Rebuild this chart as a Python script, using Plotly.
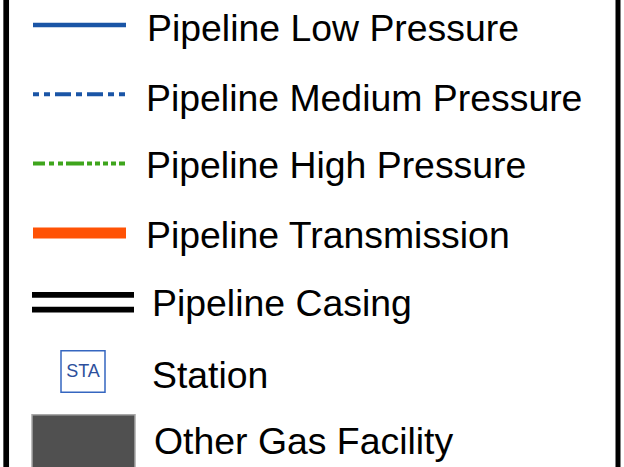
import plotly.graph_objects as go

# Legend content
labels = ["Pipeline Low Pressure", "Pipeline Medium Pressure", "Pipeline High Pressure",
          "Pipeline Transmission", "Pipeline Casing", "Station", "Other Gas Facility"]
kinds = ["line", "line", "line", "line", "casing", "station", "facility"]
colors = ["#1a55a6", "#1a55a6", "#3ea51c", "#ff5205", "#000000", "#3566c0", "#505050"]
dashes = ["solid",
          "6px,5px,6px,5px,16px,5px,6px,5px,16px,5px,6px,5px,6px,60px",
          "12px,4px,5px,4px,5px,3px,18px,3px,5px,3px,5px,3px,5px,3px,5px,3px,6px,60px",
          "solid", "solid", None, None]
widths = [4.5, 4, 4, 11, 20.6, 1.5, 0]

W, H = 624, 467
row0, step = 25.0, 69.3
sym_x0, sym_x1 = 33, 126
text_x = [147, 146, 146, 146, 152, 152, 154]
text_dy = [7, 7, 5, 6, 4, 7, 4]

fig = go.Figure()
shapes = []
for i, (lab, kind, col) in enumerate(zip(labels, kinds, colors)):
    yc = row0 + step * i
    if kind == "line":
        fig.add_trace(go.Scatter(x=[sym_x0, sym_x1], y=[yc, yc], mode="lines",
                                 line=dict(color=col, width=widths[i], dash=dashes[i]),
                                 hoverinfo="skip"))
    elif kind == "casing":
        fig.add_trace(go.Scatter(x=[32, 134], y=[yc, yc], mode="lines",
                                 line=dict(color=col, width=widths[i]), hoverinfo="skip"))
        fig.add_trace(go.Scatter(x=[31, 135], y=[yc, yc], mode="lines",
                                 line=dict(color="white", width=9), hoverinfo="skip"))
    elif kind == "station":
        shapes.append(dict(type="rect", xref="x", yref="y", x0=61, x1=105,
                           y0=yc - 20.8, y1=yc + 20.8, layer="below",
                           line=dict(color=col, width=widths[i]), fillcolor="white"))
        fig.add_trace(go.Scatter(x=[83], y=[yc + 1], mode="text", text=["STA"],
                                 textfont=dict(family="Liberation Sans, Arial", size=18, color="#2d4f9c"),
                                 hoverinfo="skip"))
    elif kind == "facility":
        shapes.append(dict(type="rect", xref="x", yref="y", x0=32, x1=135,
                           y0=yc - 26, y1=yc + 40,
                           line=dict(color="#a8a8a8", width=1.5), fillcolor=col))
    fig.add_trace(go.Scatter(x=[text_x[i]], y=[yc + text_dy[i]], mode="text", text=[lab],
                             textposition="middle right",
                             textfont=dict(family="Liberation Sans, Arial", size=37.4, color="#000000"),
                             hoverinfo="skip"))

# frame borders
shapes.append(dict(type="line", xref="x", yref="y", x0=6.2, x1=6.2, y0=-5, y1=H + 5,
                   line=dict(color="black", width=5.7)))
shapes.append(dict(type="line", xref="x", yref="y", x0=618, x1=618, y0=-5, y1=H + 5,
                   line=dict(color="black", width=5)))

fig.update_layout(width=W, height=H, margin=dict(l=0, r=0, t=0, b=0),
                  paper_bgcolor="white", plot_bgcolor="white", showlegend=False,
                  shapes=shapes,
                  xaxis=dict(range=[0, W], visible=False, fixedrange=True),
                  yaxis=dict(range=[H, 0], visible=False, fixedrange=True))
fig.write_html("out.html", config={"displayModeBar": False},
               post_script="document.body.style.margin='0';document.body.style.overflow='hidden';")
